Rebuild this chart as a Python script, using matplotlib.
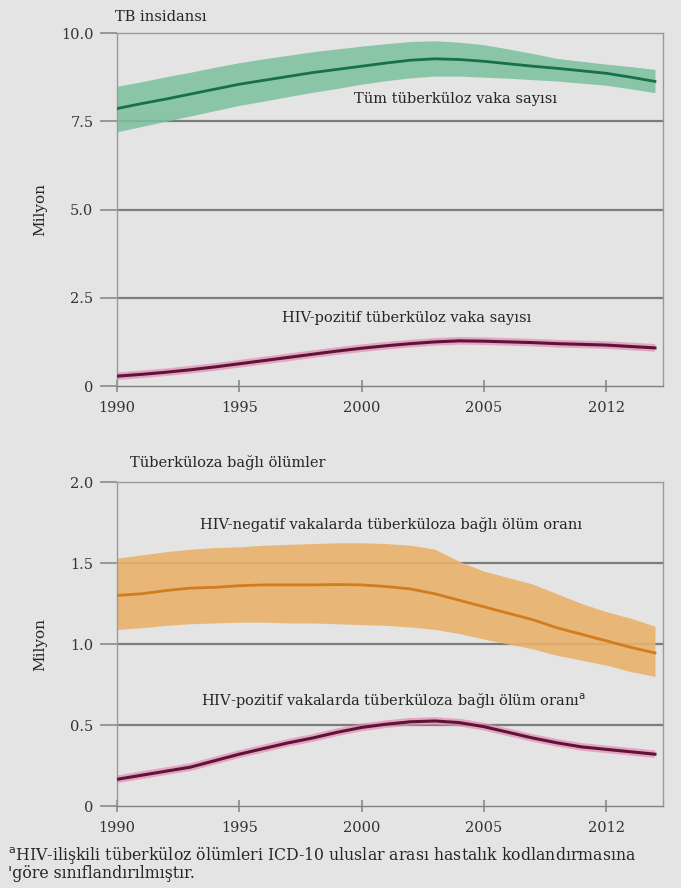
import numpy as np
import matplotlib
matplotlib.use("Agg")
import matplotlib.pyplot as plt

plt.rcParams['font.family'] = ['DejaVu Serif']
plt.rcParams['font.size'] = 10

# Veriler (milyon)
years = list(range(1990, 2013))

tb_all = [7.86, 8.00, 8.13, 8.27, 8.41, 8.55, 8.66, 8.77, 8.88, 8.97, 9.06, 9.15,
          9.23, 9.27, 9.25, 9.20, 9.13, 9.06, 9.00, 8.93, 8.86, 8.75, 8.63]
tb_all_hi = [8.49, 8.62, 8.76, 8.89, 9.03, 9.16, 9.27, 9.37, 9.47, 9.55, 9.63, 9.70,
             9.76, 9.78, 9.74, 9.67, 9.55, 9.42, 9.28, 9.20, 9.12, 9.05, 8.97]
tb_all_lo = [7.20, 7.35, 7.50, 7.65, 7.80, 7.95, 8.07, 8.20, 8.32, 8.43, 8.55, 8.65,
             8.73, 8.78, 8.78, 8.75, 8.72, 8.68, 8.64, 8.58, 8.52, 8.42, 8.31]

tb_hiv = [0.28, 0.33, 0.39, 0.46, 0.54, 0.63, 0.72, 0.81, 0.90, 0.99, 1.07, 1.14,
          1.20, 1.25, 1.28, 1.27, 1.25, 1.23, 1.20, 1.18, 1.16, 1.12, 1.08]

death_neg = [1.30, 1.31, 1.33, 1.345, 1.35, 1.36, 1.365, 1.365, 1.365, 1.367, 1.365, 1.355,
             1.34, 1.31, 1.27, 1.23, 1.19, 1.15, 1.10, 1.06, 1.02, 0.98, 0.945]
death_neg_hi = [1.53, 1.55, 1.57, 1.585, 1.595, 1.60, 1.61, 1.615, 1.62, 1.625, 1.625, 1.62,
                1.61, 1.585, 1.51, 1.45, 1.41, 1.37, 1.31, 1.25, 1.20, 1.16, 1.11]
death_neg_lo = [1.09, 1.10, 1.115, 1.125, 1.13, 1.135, 1.135, 1.13, 1.13, 1.125, 1.12, 1.115,
                1.105, 1.09, 1.065, 1.03, 1.00, 0.97, 0.93, 0.90, 0.87, 0.83, 0.80]

death_pos = [0.165, 0.19, 0.215, 0.24, 0.28, 0.32, 0.355, 0.39, 0.42, 0.455, 0.485, 0.505,
             0.52, 0.525, 0.515, 0.49, 0.455, 0.42, 0.39, 0.365, 0.35, 0.335, 0.32]

xtick_pos = [1990, 1995, 2000, 2005, 2010]
xtick_lab = ["1990", "1995", "2000", "2005", "2012"]

bg = '#e4e4e4'
txt = '#262626'
fs = 10.5
fig = plt.figure(figsize=(6.81, 8.88), dpi=100, facecolor=bg)
ax1 = fig.add_axes([0.1718, 0.5653, 0.8018, 0.3975])
ax2 = fig.add_axes([0.1718, 0.0923, 0.8018, 0.3649])


def style_axis(ax, ymax, yticks, ylabels):
    ax.set_facecolor(bg)
    ax.set_xlim(1990, 2012.33)
    ax.set_ylim(0, ymax)
    ax.set_yticks(yticks)
    ax.set_yticklabels(ylabels)
    ax.set_xticks(xtick_pos)
    ax.set_xticklabels(xtick_lab)
    for s in ax.spines.values():
        s.set_color('#9a9a9a')
        s.set_linewidth(1.0)
    ax.spines['bottom'].set_color('#808080')
    ax.tick_params(axis='y', length=12, width=1.2, color='#8a8a8a', pad=5,
                   labelcolor='#333333', labelsize=10.5)
    ax.tick_params(axis='x', direction='inout', length=9, width=1.2, color='#8a8a8a',
                   pad=6, labelcolor='#333333', labelsize=10.5)
    for yv in yticks[1:-1]:
        ax.axhline(yv, color='#7c7c7c', lw=1.6, zorder=1)
    ax.set_ylabel("Milyon", fontsize=11, color=txt)


style_axis(ax1, 10, [0, 2.5, 5.0, 7.5, 10.0], ["0", "2.5", "5.0", "7.5", "10.0"])
style_axis(ax2, 2, [0, 0.5, 1.0, 1.5, 2.0], ["0", "0.5", "1.0", "1.5", "2.0"])
ax1.yaxis.set_label_coords(-0.128, 0.5)
ax2.yaxis.set_label_coords(-0.128, 0.5)

# Panel 1
ax1.fill_between(years, tb_all_lo, tb_all_hi, color='#7cc09e', alpha=0.85, lw=0, zorder=2)
ax1.plot(years, tb_all, color='#17704a', lw=2, zorder=3)
ax1.plot(years, tb_hiv, color='#e58ab8', lw=5.5, alpha=0.7, zorder=2,
         solid_capstyle='butt')
ax1.plot(years, tb_hiv, color='#5e1535', lw=2.2, zorder=3)
ax1.text(2003.85, 8.13, "Tüm tüberküloz vaka sayısı", ha='center', va='center',
         color=txt, fontsize=fs)
ax1.text(2001.85, 1.92, "HIV-pozitif tüberküloz vaka sayısı", ha='center', va='center',
         color=txt, fontsize=fs)

# Panel 2
ax2.fill_between(years, death_neg_lo, death_neg_hi, color='#e9b26c', alpha=0.9, lw=0, zorder=2)
ax2.plot(years, death_neg, color='#d27c1c', lw=2, zorder=3)
ax2.plot(years, death_pos, color='#e58ab8', lw=5.5, alpha=0.7, zorder=2,
         solid_capstyle='butt')
ax2.plot(years, death_pos, color='#5e1535', lw=2.2, zorder=3)
ax2.text(2001.2, 1.735, "HIV-negatif vakalarda tüberküloza bağlı ölüm oranı", ha='center',
         va='center', color=txt, fontsize=fs)
ax2.text(2001.3, 0.648, "HIV-pozitif vakalarda tüberküloza bağlı ölüm oranı$^{\\mathrm{a}}$",
         ha='center', va='center', color=txt, fontsize=fs)

fig.text(115 / 681, 1 - 17 / 888, "TB insidansı", ha='left', va='center', color=txt,
         fontsize=fs)
fig.text(130 / 681, 1 - 462 / 888, "Tüberküloza bağlı ölümler", ha='left', va='center',
         color=txt, fontsize=fs)
fig.text(8 / 681, 1 - 855 / 888,
         "$^{\\mathrm{a}}$HIV-ilişkili tüberküloz ölümleri ICD-10 uluslar arası hastalık kodlandırmasına",
         ha='left', va='center', color=txt, fontsize=11.3)
fig.text(8 / 681, 1 - 873 / 888, "'göre sınıflandırılmıştır.", ha='left', va='center',
         color=txt, fontsize=11.3)

fig.savefig("out.png", dpi=100, facecolor=bg)
